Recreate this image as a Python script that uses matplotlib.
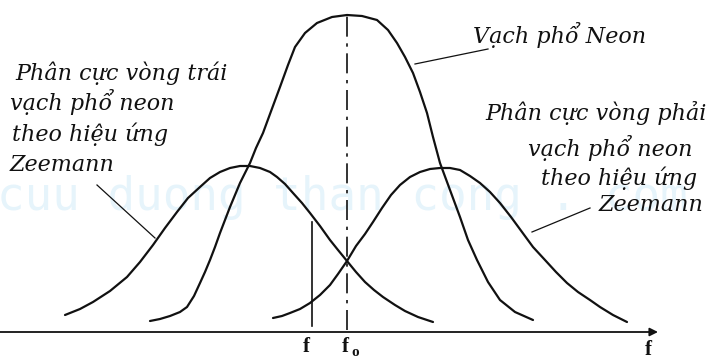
import matplotlib
matplotlib.use("Agg")
import matplotlib.pyplot as plt

# curve samples: frequency position and line height above the axis
left_x = [65, 80, 93, 110, 127, 140, 153, 165, 177, 188, 200, 210, 220, 230, 240, 250,
          260, 270, 277, 285, 293, 302, 310, 320, 330, 338, 347, 356, 365, 374, 383,
          395, 405, 418, 433]
left_h = [15, 21, 28, 39, 53, 68, 85, 102, 118, 132, 143, 152, 158, 162, 164, 164,
          162, 158, 153, 146, 137, 127, 117, 104, 90, 80, 69, 58, 48, 40, 33,
          25, 19, 13, 8]

neon_x = [150, 160, 170, 180, 187, 194, 200, 205, 210, 215, 220, 225, 230, 235, 240,
          245, 250, 256, 263, 270, 280, 288, 295, 305, 317, 332, 347, 362, 377, 388,
          397, 405, 413, 420, 427, 433, 440, 450, 460, 468, 477, 488, 500, 515, 533]
neon_h = [9, 11, 14, 18, 23, 34, 47, 58, 70, 83, 97, 110, 123, 135, 147,
          157, 167, 182, 197, 216, 243, 265, 283, 297, 307, 313, 315, 314, 310, 300,
          287, 273, 257, 238, 217, 193, 167, 140, 113, 90, 70, 48, 30, 18, 10]

right_x = [273, 282, 290, 300, 310, 320, 330, 338, 347, 356, 365, 373, 382, 391, 400,
           410, 420, 430, 440, 450, 460, 470, 480, 490, 500, 511, 522, 533, 545, 556,
           567, 578, 590, 600, 613, 627]
right_h = [12, 14, 17, 21, 27, 35, 45, 56, 69, 84, 96, 108, 122, 135, 145,
           153, 158, 161, 162, 162, 160, 154, 147, 138, 127, 113, 98, 83, 70, 58,
           47, 38, 30, 23, 15, 8]

f_pos = 312
f_top = 108
f0_pos = 347
f0_top = 315

neon_label = "Vạch phổ Neon"
left_label = ["Phân cực vòng trái", "vạch phổ neon", "theo hiệu ứng", "Zeemann"]
right_label = ["Phân cực vòng phải", "vạch phổ neon", "theo hiệu ứng", "Zeemann"]

W, H = 709, 360
fig = plt.figure(figsize=(W / 100, H / 100), dpi=100)
ax = fig.add_axes([0, 0, 1, 1])
ax.set_xlim(0, W)
ax.set_ylim(-30, 330)
ax.axis("off")

ink = "#111111"

# faint site watermark behind everything
ax.text(-3, 132, "cuu duong than cong . com", family="DejaVu Sans Mono",
        fontsize=33, color="#e6f4fb", va="center", ha="left", zorder=0)

for xs, hs in [(left_x, left_h), (neon_x, neon_h), (right_x, right_h)]:
    ax.plot(xs, hs, color=ink, lw=1.6, solid_joinstyle="round", solid_capstyle="round")

# f marker and the dash-dot line through the neon peak
ax.plot([f_pos, f_pos], [4, f_top], color=ink, lw=1.2)
ax.plot([f0_pos, f0_pos], [0, f0_top], color=ink, lw=1.2,
        linestyle=(0, (12, 4, 2, 4)))

# frequency axis with arrow
ax.annotate("", xy=(658, -2), xytext=(0, -2),
            arrowprops=dict(arrowstyle="-|>", color=ink, lw=1.3,
                            mutation_scale=12, shrinkA=0, shrinkB=0))

lbl = dict(family="Liberation Serif", fontweight="bold", fontsize=15, color=ink)
ax.text(f_pos - 6, -17, "f", ha="center", va="center", **lbl)
ax.text(f0_pos - 2, -17, "f", ha="center", va="center", **lbl)
ax.text(f0_pos + 8, -23, "o", ha="center", va="center",
        family="Liberation Serif", fontweight="bold", fontsize=11, color=ink)
ax.text(648, -20, "f", ha="center", va="center", **lbl)

txt = dict(family="DejaVu Serif", style="italic", fontsize=16, color=ink, va="center")

ax.text(473, 330 - 35, neon_label, ha="left", **txt)
ax.plot([415, 488], [266, 281], color=ink, lw=0.9)

left_y = [73, 102, 134, 165]
left_x0 = [15, 10, 12, 10]
for s, x0, y in zip(left_label, left_x0, left_y):
    ax.text(x0, 330 - y, s, ha="left", **txt)
ax.plot([97, 155], [145, 92], color=ink, lw=0.9)

right_y = [113, 148, 178, 205]
right_x1 = [707, 693, 697, 703]
for s, x1, y in zip(right_label, right_x1, right_y):
    ax.text(x1, 330 - y, s, ha="right", **txt)
ax.plot([532, 590], [98, 122], color=ink, lw=0.9)

fig.savefig("out.png", dpi=100, facecolor="white")
